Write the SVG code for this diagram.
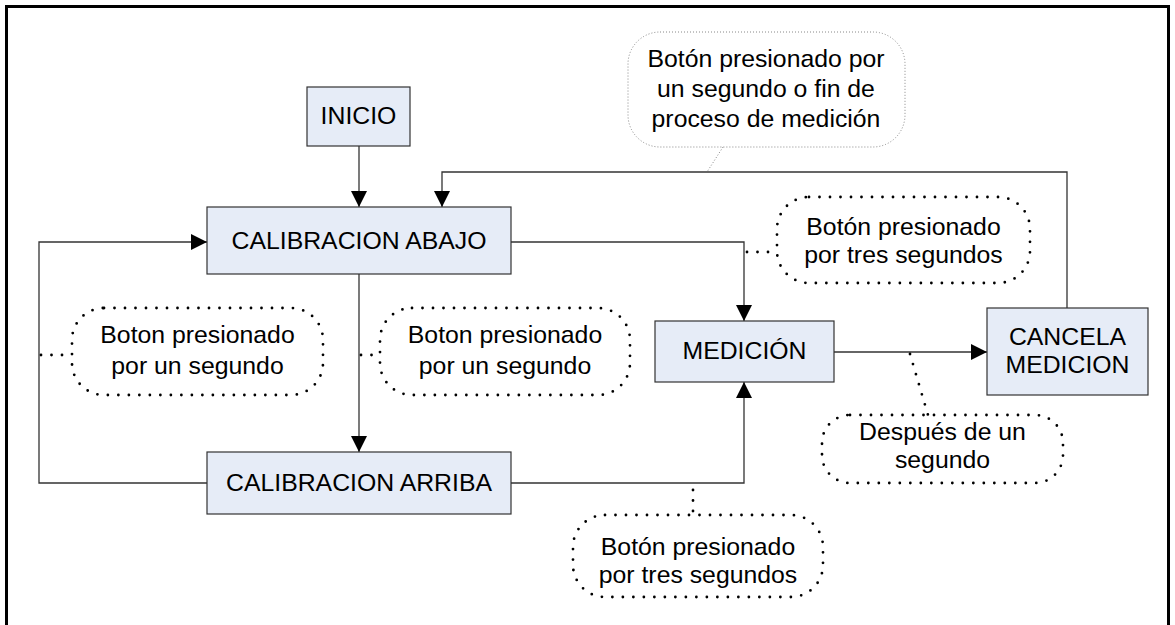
<svg xmlns="http://www.w3.org/2000/svg" width="1175" height="625" viewBox="0 0 1175 625">
<style>
.node rect{fill:#e6ecf7;stroke:#333;stroke-width:1.2}
text{font-family:"Liberation Sans",Arial,sans-serif;font-size:24.8px;fill:#000;text-anchor:middle}
.conn{fill:none;stroke:#333;stroke-width:1.3}
.dot{fill:none;stroke:#000;stroke-width:2.8;stroke-linecap:round;stroke-dasharray:0 10.5}
.fine{fill:#fff;stroke:#888;stroke-width:1;stroke-dasharray:1 2}
</style>
<defs>
<marker id="arr" markerUnits="userSpaceOnUse" markerWidth="16" markerHeight="16" refX="16" refY="8" orient="auto">
<path d="M0,0 L16,8 L0,16 z" fill="#000"/>
</marker>
</defs>
<rect x="0" y="0" width="1175" height="625" fill="#fff"/>
<rect x="6.5" y="6.5" width="1162" height="660" fill="none" stroke="#000" stroke-width="3"/>

<g id="connectors">
<path class="conn" d="M359,146 V207" marker-end="url(#arr)"/>
<path class="conn" d="M359,274 V452" marker-end="url(#arr)"/>
<path class="conn" d="M207,483 H39 V242 H207" marker-end="url(#arr)"/>
<path class="conn" d="M511,242 H744 V321" marker-end="url(#arr)"/>
<path class="conn" d="M511,483 H744 V382" marker-end="url(#arr)"/>
<path class="conn" d="M834,352 H987" marker-end="url(#arr)"/>
<path class="conn" d="M1067,308 V172 H442 V207" marker-end="url(#arr)"/>
</g>

<g id="inicio" class="node">
<rect x="307" y="87" width="103" height="59"/>
<text x="358.5" y="124">INICIO</text>
</g>
<g id="calibracion-abajo" class="node">
<rect x="207" y="207" width="304" height="67"/>
<text x="359" y="249">CALIBRACION ABAJO</text>
</g>
<g id="calibracion-arriba" class="node">
<rect x="207" y="452" width="304" height="62"/>
<text x="359" y="491">CALIBRACION ARRIBA</text>
</g>
<g id="medicion" class="node">
<rect x="655" y="321" width="179" height="61"/>
<text x="744.5" y="359">MEDICIÓN</text>
</g>
<g id="cancela-medicion" class="node">
<rect x="987" y="308" width="161" height="87"/>
<text x="1067.5" y="345">CANCELA</text>
<text x="1067.5" y="373">MEDICION</text>
</g>

<g id="note-top">
<path class="fine" d="M723,147 L707,172"/>
<rect class="fine" x="628" y="32" width="277" height="115" rx="32"/>
<text x="766" y="67">Botón presionado por</text>
<text x="766" y="97">un segundo o fin de</text>
<text x="766" y="127">proceso de medición</text>
</g>

<g id="note-left">
<path class="dot" d="M41,355 H72"/>
<rect class="dot" x="72" y="308" width="251" height="87" rx="32"/>
<text x="197.5" y="343">Boton presionado</text>
<text x="197.5" y="374">por un segundo</text>
</g>

<g id="note-mid">
<path class="dot" d="M361,355 H380"/>
<rect class="dot" x="380" y="308" width="250" height="87" rx="32"/>
<text x="505" y="343">Boton presionado</text>
<text x="505" y="374">por un segundo</text>
</g>

<g id="note-right-top">
<path class="dot" d="M747,252 H777"/>
<rect class="dot" x="777" y="197" width="253" height="86" rx="32"/>
<text x="903.5" y="235">Botón presionado</text>
<text x="903.5" y="263">por tres segundos</text>
</g>

<g id="note-despues">
<path class="dot" d="M910,354 L928,415"/>
<rect class="dot" x="822" y="415" width="241" height="68" rx="28"/>
<text x="942.5" y="440">Después de un</text>
<text x="942.5" y="468">segundo</text>
</g>

<g id="note-bottom">
<path class="dot" d="M693,490 V515"/>
<rect class="dot" x="573" y="515" width="250" height="82" rx="32"/>
<text x="698" y="555">Botón presionado</text>
<text x="698" y="583">por tres segundos</text>
</g>
</svg>
